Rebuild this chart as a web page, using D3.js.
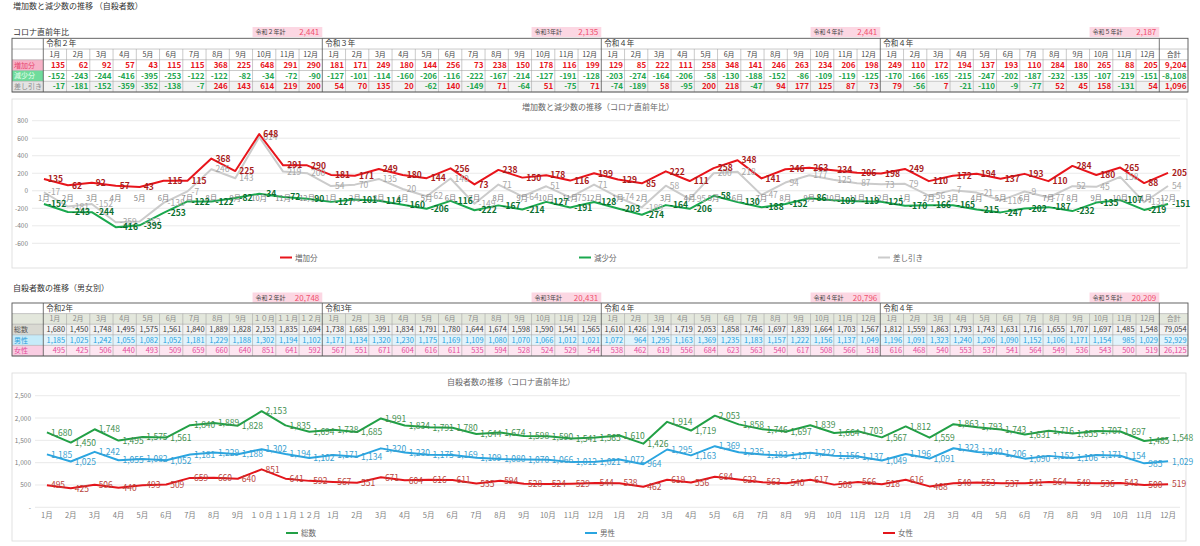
<!DOCTYPE html>
<html>
<head>
<meta charset="utf-8">
<script src="https://cdn.jsdelivr.net/npm/d3@7"></script>
<style>
  body { margin: 0; background: #fff; }
  svg { font-family: "Noto Sans CJK JP", "Noto Sans", sans-serif; }
</style>
</head>
<body>
<svg id="board" width="1200" height="546"></svg>
<script>
// ---- data ----
const monthNames   = ["1月","2月","3月","4月","5月","6月","7月","8月","9月","10月","11月","12月"];
const monthNamesZ  = ["1月","2月","3月","4月","5月","6月","7月","8月","9月","１０月","１１月","１２月"];
const yearsTop     = ["令和２年","令和３年","令和４年","令和４年"];
const yearsSex     = ["令和2年","令和3年","令和４年","令和４年"];
const sumLabels    = ["令和２年計","令和3年計","令和４年計","令和５年計"];
const sumIncrease  = [2441, 2135, 2441, 2187];
const sumAll       = [20748, 20431, 20796, 20209];

const increase = [135,62,92,57,43,115,115,368,225,648,291,290,
                  181,171,249,180,144,256,73,238,150,178,116,199,
                  129,85,222,111,258,348,141,246,263,234,206,198,
                  249,110,172,194,137,193,110,284,180,265,88,205];
const decrease = [-152,-243,-244,-416,-395,-253,-122,-122,-82,-34,-72,-90,
                  -127,-101,-114,-160,-206,-116,-222,-167,-214,-127,-191,-128,
                  -203,-274,-164,-206,-58,-130,-188,-152,-86,-109,-119,-125,
                  -170,-166,-165,-215,-247,-202,-187,-232,-135,-107,-219,-151];
const balance  = [-17,-181,-152,-359,-352,-138,-7,246,143,614,219,200,
                  54,70,135,20,-62,140,-149,71,-64,51,-75,71,
                  -74,-189,58,-95,200,218,-47,94,177,125,87,73,
                  79,-56,7,-21,-110,-9,-77,52,45,158,-131,54];
const totalIncrease = 9204, totalDecrease = -8108, totalBalance = 1096;

const allCount = [1680,1450,1748,1495,1575,1561,1840,1889,1828,2153,1835,1694,
                  1738,1685,1991,1834,1791,1780,1644,1674,1598,1590,1541,1565,
                  1610,1426,1914,1719,2053,1858,1746,1697,1839,1664,1703,1567,
                  1812,1559,1863,1793,1743,1631,1716,1655,1707,1697,1485,1548];
const maleCount = [1185,1025,1242,1055,1082,1052,1181,1229,1188,1302,1194,1102,
                   1171,1134,1320,1230,1175,1169,1109,1080,1070,1066,1012,1021,
                   1072,964,1295,1163,1369,1235,1183,1157,1222,1156,1137,1049,
                   1196,1091,1323,1240,1206,1090,1152,1106,1171,1154,985,1029];
const femaleCount = [495,425,506,440,493,509,659,660,640,851,641,592,
                     567,551,671,604,616,611,535,594,528,524,529,544,
                     538,462,619,556,684,623,563,540,617,508,566,518,
                     616,468,540,553,537,541,564,549,536,543,500,519];
const totalAll = 79054, totalMale = 52929, totalFemale = 26125;

const topTicks    = [-600,-400,-200,0,200,400,600,800];
const bottomTicks = [0,500,1000,1500,2000,2500];

// ---- helpers ----
const fmt = d3.formatLocale({decimal: ".", thousands: ",", grouping: [3], currency: ["", ""], minus: "-"}).format(",");
const svg = d3.select("#board");
const RED = "#e8141b", GREEN = "#1fa64f";

function text(g, x, y, str, size, color, anchor, weight) {
  return g.append("text").attr("x", x).attr("y", y).text(str)
    .attr("font-size", size).attr("fill", color)
    .attr("text-anchor", anchor || "start").attr("font-weight", weight || "normal");
}

// table of 48 months + total column
function drawTable(cfg) {
  const g = svg.append("g");
  const col = d3.scaleLinear().domain([0, 48]).range([43.3, 1159.3]);
  const x0 = 12, xEnd = 1188, rh = cfg.rowH, top = cfg.top;
  const rowY = i => top + i * rh;

  // year total boxes
  const boxes = g.selectAll("g.box").data(cfg.sumValues).enter().append("g");
  boxes.append("rect")
    .attr("x", (d, i) => col(i * 12 + 9)).attr("y", cfg.boxTop)
    .attr("width", col(3) - col(0)).attr("height", 10).attr("fill", "#fcd7e3");
  boxes.append("text").attr("x", (d, i) => col(i * 12 + 9) + 3).attr("y", cfg.boxTop + 7.3)
    .attr("font-size", 6).attr("fill", "#444").text((d, i) => sumLabels[i]);
  boxes.append("text").attr("x", (d, i) => col(i * 12 + 12) - 3).attr("y", cfg.boxTop + 8)
    .attr("font-size", 8).attr("fill", "#f0506e").attr("text-anchor", "end").text(d => fmt(d));

  // row fills
  cfg.rows.forEach((r, k) => {
    const y = rowY(k + 2);
    g.append("rect").attr("x", x0).attr("y", y).attr("width", xEnd - x0).attr("height", rh).attr("fill", r.rowFill);
    g.append("rect").attr("x", x0).attr("y", y).attr("width", col(0) - x0).attr("height", rh).attr("fill", r.labelFill);
    text(g, x0 + 2, y + rh - 2.8, r.label, 7, r.labelColor);
  });
  if (cfg.monthFill) {
    g.append("rect").attr("x", x0).attr("y", rowY(1)).attr("width", xEnd - x0).attr("height", rh).attr("fill", cfg.monthFill);
  }

  // grid lines
  const gl = "#a6a6a6";
  for (let k = 1; k <= 5; k++) {
    g.append("line").attr("x1", x0).attr("x2", xEnd).attr("y1", rowY(k)).attr("y2", rowY(k))
      .attr("stroke", gl).attr("stroke-width", 0.6);
  }
  g.selectAll("line.v").data(d3.range(49)).enter().append("line")
    .attr("x1", d => col(d)).attr("x2", d => col(d))
    .attr("y1", d => (d % 12 === 0 ? rowY(0) : rowY(1))).attr("y2", rowY(5))
    .attr("stroke", d => (d % 12 === 0 ? "#555" : gl)).attr("stroke-width", d => (d % 12 === 0 ? 0.8 : 0.6));
  g.append("rect").attr("x", x0).attr("y", rowY(0)).attr("width", xEnd - x0).attr("height", rh * 5)
    .attr("fill", "none").attr("stroke", "#555").attr("stroke-width", 0.9);

  // year labels
  g.selectAll("text.yr").data(cfg.years).enter().append("text")
    .attr("x", (d, i) => col(i * 12) + 3).attr("y", rowY(0) + rh - 2.8)
    .attr("font-size", 7.5).attr("fill", "#333").text(d => d);

  // month labels
  g.selectAll("text.mo").data(cfg.months).enter().append("text")
    .attr("x", (d, i) => (col(i) + col(i + 1)) / 2).attr("y", rowY(1) + rh - 2.8)
    .attr("text-anchor", "middle").attr("font-size", 7).attr("fill", cfg.monthColor).text(d => d);
  text(g, (col(48) + xEnd) / 2, rowY(1) + rh - 2.8, "合計", 7, cfg.monthColor, "middle");

  // values
  cfg.rows.forEach((r, k) => {
    const y = rowY(k + 2) + rh - 2.6;
    g.selectAll(null).data(r.values).enter().append("text")
      .attr("x", (d, i) => col(i + 1) - 1.5).attr("y", y)
      .attr("text-anchor", "end").attr("font-size", cfg.valueSize).attr("font-weight", cfg.valueWeight)
      .attr("fill", r.color).text(d => fmt(d));
    text(g, xEnd - 1.5, y, fmt(r.total), cfg.valueSize, typeof r.color === "function" ? r.color(r.total) : r.color, "end", cfg.valueWeight);
  });
}

// line chart with data labels on the right of points
function drawChart(cfg) {
  const g = svg.append("g");
  g.append("rect").attr("x", cfg.frame[0]).attr("y", cfg.frame[1]).attr("width", cfg.frame[2]).attr("height", cfg.frame[3])
    .attr("fill", "#fff").attr("stroke", "#d9d9d9").attr("stroke-width", 0.8);
  const x = d3.scaleBand().domain(d3.range(48)).range(cfg.xRange);
  const px = i => x(i) + x.bandwidth() / 2;
  const y = d3.scaleLinear().domain(cfg.yDomain).range(cfg.yRange);

  g.selectAll("line.grid").data(cfg.ticks).enter().append("line")
    .attr("x1", cfg.xRange[0]).attr("x2", cfg.xRange[1])
    .attr("y1", d => y(d)).attr("y2", d => y(d))
    .attr("stroke", "#e3e3e3").attr("stroke-width", 0.8);
  g.selectAll("text.tick").data(cfg.ticks).enter().append("text")
    .attr("x", cfg.tickX).attr("y", d => y(d) + 2.5).attr("text-anchor", "end")
    .attr("font-size", 6.5).attr("fill", "#7f7f7f").text(cfg.tickFormat);

  text(g, cfg.titleX, cfg.titleY, cfg.title, 8, "#666", "middle");

  const line = d3.line().x((d, i) => px(i)).y(d => y(d));
  cfg.series.forEach(s => {
    g.append("path").datum(s.values).attr("d", line)
      .attr("fill", "none").attr("stroke", s.stroke).attr("stroke-width", 2).attr("stroke-linejoin", "round");
  });

  g.selectAll("text.month").data(cfg.months).enter().append("text")
    .attr("x", (d, i) => px(i)).attr("y", cfg.monthY)
    .attr("text-anchor", "middle").attr("font-size", 7.5).attr("fill", "#808080").text(d => d);

  cfg.series.forEach(s => {
    g.selectAll(null).data(s.values).enter().append("text")
      .attr("x", (d, i) => px(i) + 4).attr("y", d => y(d) + 3.2)
      .attr("font-size", s.size).attr("font-weight", s.weight).attr("fill", s.labelColor).text(d => fmt(d));
  });

  cfg.series.forEach(s => {
    g.append("line").attr("x1", s.legendX).attr("x2", s.legendX + 12)
      .attr("y1", cfg.legendY).attr("y2", cfg.legendY).attr("stroke", s.stroke).attr("stroke-width", 2);
    text(g, s.legendX + 15, cfg.legendY + 3, s.name, 7.5, "#666");
  });
}

// ---- titles ----
text(svg, 13, 9, "増加数と減少数の推移 （自殺者数）", 8, "#333");
text(svg, 13, 35, "コロナ直前年比", 8, "#333");
text(svg, 13, 291, "自殺者数の推移（男女別）", 8, "#333");

const allMonths  = d3.merge([monthNames, monthNames, monthNames, monthNames]);
const allMonthsZ = d3.merge([monthNamesZ, monthNames, monthNames, monthNames]);
const signColor = d => (d >= 0 ? RED : GREEN);

drawTable({
  top: 38.3, rowH: 10.74, boxTop: 27, years: yearsTop, months: allMonths,
  sumValues: sumIncrease, monthColor: "#444", valueSize: 8, valueWeight: "bold",
  rows: [
    {label: "増加分", values: increase, total: totalIncrease, rowFill: "#fff", labelFill: "#f7b3c8", labelColor: "#e8456f", color: RED},
    {label: "減少分", values: decrease, total: totalDecrease, rowFill: "#fff", labelFill: "#6fdc9c", labelColor: "#eafff1", color: GREEN},
    {label: "差し引き", values: balance, total: totalBalance, rowFill: "#f2f2f2", labelFill: "#e3e3e3", labelColor: "#8c8c8c", color: signColor}
  ]
});

drawTable({
  top: 303, rowH: 10.6, boxTop: 292.5, years: yearsSex, months: allMonthsZ,
  sumValues: sumAll, monthFill: "#e3e7dc", monthColor: "#8a8a8a", valueSize: 7.4, valueWeight: "normal",
  rows: [
    {label: "総数", values: allCount, total: totalAll, rowFill: "#f2f2f2", labelFill: "#d9d9d2", labelColor: "#555", color: "#404040"},
    {label: "男性", values: maleCount, total: totalMale, rowFill: "#e1f4fc", labelFill: "#c6ebf9", labelColor: "#28a0dc", color: "#28a0dc"},
    {label: "女性", values: femaleCount, total: totalFemale, rowFill: "#fde6f1", labelFill: "#f9cde2", labelColor: "#e44d9c", color: "#e44d9c"}
  ]
});

drawChart({
  frame: [12, 99, 1175, 169], xRange: [32, 1180], yDomain: [-600, 800], yRange: [243.3, 120.7],
  ticks: topTicks, tickX: 28, tickFormat: d => fmt(d),
  title: "増加数と減少数の推移（コロナ直前年比）", titleX: 598, titleY: 110,
  months: allMonths, monthY: 201, legendY: 257.5,
  series: [
    {name: "差し引き", values: balance, stroke: "#cbcbcb", labelColor: "#a6a6a6", weight: "normal", size: 8.5, legendX: 878},
    {name: "減少分", values: decrease, stroke: "#1aa84e", labelColor: "#0b6e2f", weight: "bold", size: 8.5, legendX: 579},
    {name: "増加分", values: increase, stroke: RED, labelColor: "#a81c1c", weight: "bold", size: 8.5, legendX: 280}
  ]
});

drawChart({
  frame: [12, 373, 1174, 168], xRange: [35, 1180], yDomain: [0, 2500], yRange: [507.3, 395.7],
  ticks: bottomTicks, tickX: 31, tickFormat: d => (d === 0 ? "-" : fmt(d)),
  title: "自殺者数の推移（コロナ直前年比）", titleX: 511, titleY: 385,
  months: allMonthsZ, monthY: 518, legendY: 533,
  series: [
    {name: "総数", values: allCount, stroke: "#22a046", labelColor: "#3f8f4f", weight: "normal", size: 8.5, legendX: 286},
    {name: "男性", values: maleCount, stroke: "#2aa5e0", labelColor: "#3a9fd0", weight: "normal", size: 8.5, legendX: 585},
    {name: "女性", values: femaleCount, stroke: "#e3151b", labelColor: "#b8443c", weight: "normal", size: 8.5, legendX: 883}
  ]
});
</script>
</body>
</html>
